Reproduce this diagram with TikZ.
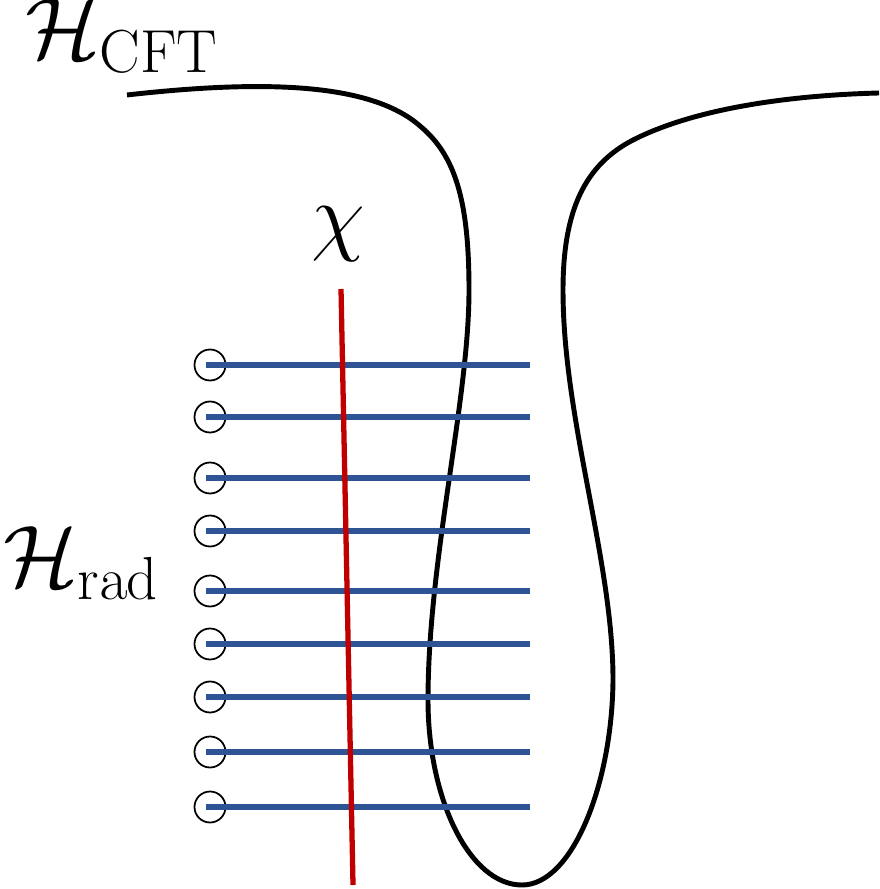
\documentclass[tikz,border=0pt]{standalone}
\usepackage{tikz}
\usetikzlibrary{calc}
\usepackage{amssymb}
\usepackage{amsmath}
\definecolor{radblue}{RGB}{47,84,150}
\definecolor{chired}{RGB}{192,0,0}

\begin{document}
\begin{tikzpicture}[x=0.01cm,y=-0.01cm,
  curve/.style={line width=1.4pt,black},
  radline/.style={line width=1.5pt,radblue},
  chiline/.style={line width=1.5pt,chired},
  site/.style={circle,draw,line width=0.5pt,minimum size=31*0.01cm,inner sep=0pt},
  lab/.style={font=\fontsize{24}{28}\selectfont,inner sep=0pt}]
\useasboundingbox (0,0) rectangle (879,889);
% labels
\node[lab,anchor=base west] (hcft) at (25,59) {$\mathcal{H}_{\mathrm{CFT}}$};
\node[lab,anchor=base west] (hrad) at (3,586) {$\mathcal{H}_{\mathrm{rad}}$};
% boundary
\draw[curve] (127,95) .. controls (260,80) and (370,82) .. (420,126)
  .. controls (455,155) and (469,200) .. (469,290)
  .. controls (469,400) and (428,560) .. (428,700)
  .. controls (428,800) and (470,885) .. (522,885)
  .. controls (572,885) and (612,785) .. (613,680)
  .. controls (613,560) and (563,420) .. (563,290)
  .. controls (563,210) and (585,165) .. (633,140)
  .. controls (700,106) and (800,95) .. (879,93);
% radiation qubits
\foreach \yy [count=\i] in {365,417,478,531,591,644,697,752,807} {
  \node[site] (q\i) at (210,\yy) {};
  \coordinate (e\i) at (530,\yy);
  \draw[radline] ($(q\i.center)+(-4,0)$) -- (e\i);
}
% chi
\coordinate (chitop) at (341,289);
\coordinate (chibot) at (353,885);
\draw[chiline] (chitop) -- (chibot);
\node[lab,anchor=base] (chi) at (338,245) {$\chi$};
\end{tikzpicture}
\end{document}
